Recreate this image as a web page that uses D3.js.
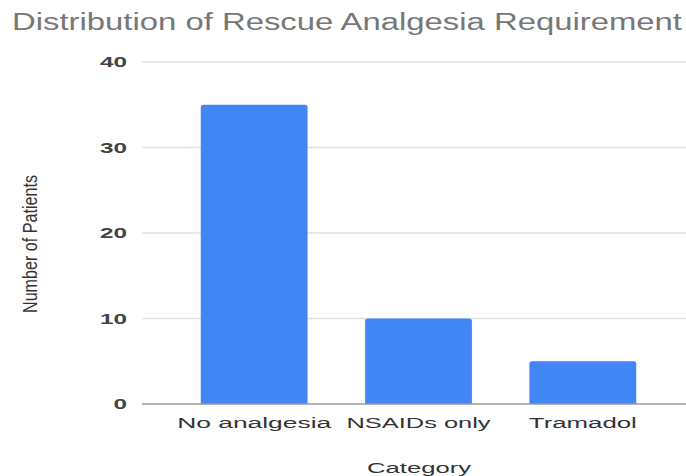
<!DOCTYPE html>
<html>
<head>
<meta charset="utf-8">
<script src="https://cdn.jsdelivr.net/npm/d3@7"></script>
<style>
  html, body { margin: 0; padding: 0; background: #ffffff; }
  svg { display: block; }
  text { font-family: "Liberation Sans", Arial, sans-serif; }
</style>
</head>
<body>
<script>
// Rescue analgesia requirement, number of patients per category
const categories = ["No analgesia", "NSAIDs only", "Tramadol"];
const patients = [35, 10, 5];
const yTicks = [0, 10, 20, 30, 40];

const W = 686, H = 476;
const svg = d3.select("body").append("svg")
  .attr("width", W).attr("height", H);

const x = d3.scaleBand()
  .domain(categories)
  .range([172, 665])
  .paddingInner(0.35)
  .paddingOuter(0.175);

const y = d3.scaleLinear()
  .domain([0, 40])
  .range([404, 62]);

// horizontal gridlines
svg.append("g")
  .selectAll("line")
  .data(yTicks.filter(d => d !== 0))
  .join("line")
  .attr("x1", 142).attr("x2", W)
  .attr("y1", d => y(d)).attr("y2", d => y(d))
  .attr("stroke", "#e2e2e2")
  .attr("stroke-width", 1.5);

// y tick labels
const yAxis = svg.append("g")
  .attr("transform", "translate(127,0)")
  .call(d3.axisLeft(y).tickValues(yTicks).tickSize(0).tickPadding(0));
yAxis.select(".domain").remove();
yAxis.selectAll("text")
  .attr("font-size", 15)
  .attr("font-weight", "bold")
  .attr("fill", "#444")
  .attr("font-family", "\"Liberation Sans\", Arial, sans-serif")
  .attr("textLength", d => String(d).length * 13.5)
  .attr("lengthAdjust", "spacingAndGlyphs");

// bars
svg.append("g")
  .selectAll("path")
  .data(categories.map((c, i) => ({ c, v: patients[i] })))
  .join("path")
  .attr("fill", "#4285f4")
  .attr("d", d => {
    const x0 = x(d.c), w = x.bandwidth(), y0 = y(d.v), yb = y(0), r = 2.5;
    return `M${x0},${yb} V${y0 + r} Q${x0},${y0} ${x0 + r},${y0} H${x0 + w - r} Q${x0 + w},${y0} ${x0 + w},${y0 + r} V${yb} Z`;
  });

// baseline
svg.append("line")
  .attr("x1", 142).attr("x2", W)
  .attr("y1", y(0)).attr("y2", y(0))
  .attr("stroke", "#9a9a9a")
  .attr("stroke-width", 1.6);

// x axis category labels
const labelWidths = { "No analgesia": 154, "NSAIDs only": 144, "Tramadol": 108 };
const xAxis = svg.append("g")
  .attr("transform", `translate(0,${y(0)})`)
  .call(d3.axisBottom(x).tickSize(0).tickPadding(0));
xAxis.select(".domain").remove();
xAxis.selectAll("text")
  .attr("y", 24)
  .attr("dy", 0)
  .attr("font-size", 15.5)
  .attr("fill", "#333")
  .attr("font-family", "\"Liberation Sans\", Arial, sans-serif")
  .attr("textLength", d => labelWidths[d])
  .attr("lengthAdjust", "spacingAndGlyphs");

// axis titles
svg.append("text")
  .attr("x", 419).attr("y", 473)
  .attr("text-anchor", "middle")
  .attr("font-size", 15.5)
  .attr("fill", "#333")
  .attr("textLength", 104)
  .attr("lengthAdjust", "spacingAndGlyphs")
  .text("Category");

svg.append("text")
  .attr("transform", "translate(37,244) rotate(-90)")
  .attr("text-anchor", "middle")
  .attr("font-size", 20)
  .attr("fill", "#333")
  .attr("textLength", 138)
  .attr("lengthAdjust", "spacingAndGlyphs")
  .text("Number of Patients");

// chart title
svg.append("text")
  .attr("x", 12).attr("y", 30)
  .attr("font-size", 23)
  .attr("fill", "#777")
  .attr("textLength", 670)
  .attr("lengthAdjust", "spacingAndGlyphs")
  .text("Distribution of Rescue Analgesia Requirement");
</script>
</body>
</html>
